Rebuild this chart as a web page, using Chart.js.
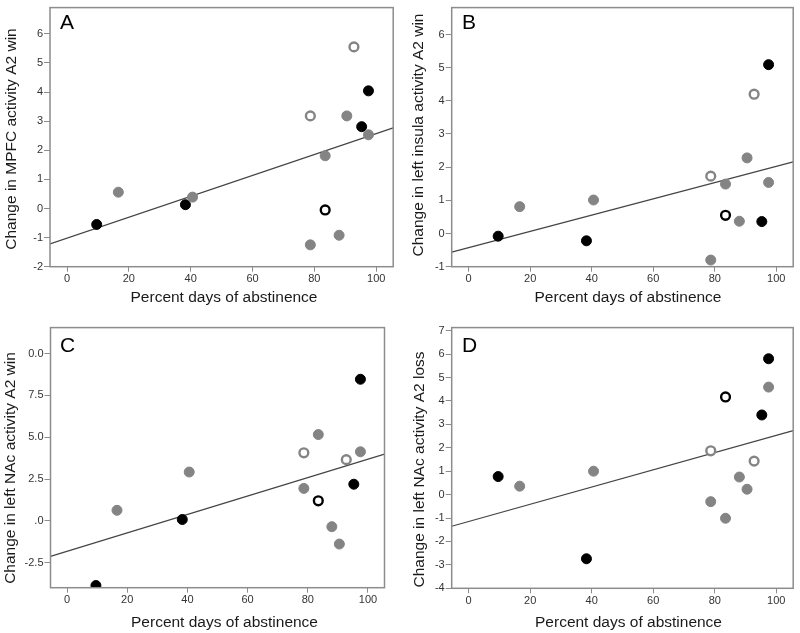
<!DOCTYPE html>
<html>
<head>
<meta charset="utf-8">
<script src="https://cdn.jsdelivr.net/npm/chart.js@4.4.1/dist/chart.umd.min.js"></script>
<style>
  html, body { margin: 0; padding: 0; background: #fff; }
  #wrap { position: relative; width: 800px; height: 633px; overflow: hidden; }
  canvas { position: absolute; }
</style>
</head>
<body>
<div id="wrap">
  <canvas id="chartA" width="400" height="320" style="left:0;top:0"></canvas>
  <canvas id="chartB" width="400" height="320" style="left:400px;top:0"></canvas>
  <canvas id="chartC" width="400" height="313" style="left:0;top:320px"></canvas>
  <canvas id="chartD" width="400" height="313" style="left:400px;top:320px"></canvas>
</div>
<script>
// Percent days of abstinence, same subjects in every panel
const xBlack     = [9.6, 38.3, 95.3, 97.5];
const xGray      = [16.6, 40.6, 78.7, 83.5, 88.0, 90.5, 97.5];
const xOpenGray  = [78.7, 92.8];
const xOpenBlack = [83.5];
const xFit       = [-5.5, 105.5];
const xTicks     = [0, 20, 40, 60, 80, 100];

// A - MPFC
const yBlackA     = [-0.55, 0.13, 2.81, 4.04];
const yGrayA      = [0.56, 0.39, -1.25, 1.81, -0.92, 3.18, 2.53];
const yOpenGrayA  = [3.18, 5.55];
const yOpenBlackA = [-0.05];
const yFitA       = [-1.22, 2.77];
const yTicksA     = [-2, -1, 0, 1, 2, 3, 4, 5, 6];

// B - left insula
const yBlackB     = [-0.08, -0.22, 0.36, 5.09];
const yGrayB      = [0.81, 1.01, -0.80, 1.49, 0.37, 2.28, 1.54];
const yOpenGrayB  = [1.73, 4.20];
const yOpenBlackB = [0.55];
const yFitB       = [-0.56, 2.16];
const yTicksB     = [-1, 0, 1, 2, 3, 4, 5, 6];

// C - left NAc win (labels as printed, top one is cut)
const yBlackC     = [-3.87, 0.08, 2.19, 8.47];
const yGrayC      = [0.63, 2.92, 1.94, 5.16, -0.35, -1.39, 4.13];
const yOpenGrayC  = [4.07, 3.66];
const yOpenBlackC = [1.20];
const yFitC       = [-2.13, 3.99];
const yTicksC     = [-2.5, 0, 2.5, 5, 7.5, 10];
const yLabelsC    = ['-2.5', '.0', '2.5', '5.0', '7.5', '0.0'];

// D - left NAc loss
const yBlackD     = [0.77, -2.74, 3.40, 5.80];
const yGrayD      = [0.36, 1.00, -0.30, -1.01, 0.75, 0.23, 4.59];
const yOpenGrayD  = [1.87, 1.43];
const yOpenBlackD = [4.17];
const yFitD       = [-1.35, 2.73];
const yTicksD     = [-4, -3, -2, -1, 0, 1, 2, 3, 4, 5, 6, 7];

const FONT = '"Liberation Sans", Arial, sans-serif';
const GRAY = '#848484';
const AXIS = '#8c8c8c';

const pts = (xs, ys) => xs.map((x, i) => ({ x, y: ys[i] }));

// frame, panel letter and axis titles
const panelDecor = {
  id: 'panelDecor',
  afterDatasetsDraw(chart, args, o) {
    const { ctx, chartArea: a } = chart;
    ctx.save();
    ctx.strokeStyle = AXIS;
    ctx.lineWidth = 1.5;
    ctx.strokeRect(a.left, a.top, a.right - a.left, a.bottom - a.top);

    ctx.fillStyle = '#000';
    ctx.font = '21px ' + FONT;
    ctx.textAlign = 'left';
    ctx.textBaseline = 'alphabetic';
    ctx.fillText(o.letter, o.letterX, o.letterY);

    ctx.fillStyle = '#1a1a1a';
    ctx.font = '15.5px ' + FONT;
    ctx.textAlign = 'center';
    ctx.textBaseline = 'middle';
    ctx.fillText(o.xTitle, o.xTitleX, o.xTitleY);
    ctx.translate(o.yTitleX, o.yTitleY);
    ctx.rotate(-Math.PI / 2);
    ctx.fillText(o.yTitle, 0, 0);
    ctx.restore();
  }
};

function makePanel(id, p) {
  const ring = (data, color) => ({
    data, pointRadius: 4.4, pointHoverRadius: 4.4, borderWidth: 2.4,
    borderColor: color, backgroundColor: '#fff', clip: 0, order: 0
  });
  const dot = (data, color) => ({
    data, pointRadius: 5, pointHoverRadius: 5, borderWidth: 1,
    borderColor: color, backgroundColor: color, clip: 0, order: 0
  });

  return new Chart(document.getElementById(id), {
    type: 'scatter',
    data: {
      datasets: [
        { data: pts(xFit, p.fit), showLine: true, borderColor: '#454545', borderWidth: 1.2,
          pointRadius: 0, pointHoverRadius: 0, fill: false, clip: 0, order: 5 },
        dot(pts(xGray, p.gray), GRAY),
        dot(pts(xBlack, p.black), '#000'),
        ring(pts(xOpenGray, p.openGray), GRAY),
        ring(pts(xOpenBlack, p.openBlack), '#000')
      ]
    },
    options: {
      responsive: false,
      animation: false,
      events: [],
      layout: { padding: { left: 0, top: p.padTop, right: p.padRight, bottom: 0 } },
      plugins: {
        legend: { display: false },
        tooltip: { enabled: false },
        panelDecor: p.decor
      },
      scales: {
        x: {
          type: 'linear', min: xFit[0], max: xFit[1],
          afterBuildTicks: s => { s.ticks = xTicks.map(v => ({ value: v })); },
          afterFit: s => { s.height = p.xHeight; },
          grid: { drawOnChartArea: false, drawTicks: true, tickLength: 5, color: AXIS, lineWidth: 1 },
          border: { display: false },
          ticks: { color: '#333', padding: 1, maxRotation: 0, autoSkip: false,
                   font: { size: 11, family: FONT } }
        },
        y: {
          type: 'linear', min: p.yMin, max: p.yMax,
          afterBuildTicks: s => { s.ticks = p.yTicks.map(v => ({ value: v })); },
          afterFit: s => { s.width = p.yWidth; },
          grid: { drawOnChartArea: false, drawTicks: true, tickLength: 6, color: AXIS, lineWidth: 1 },
          border: { display: false },
          ticks: { color: '#333', padding: 1, autoSkip: false,
                   font: { size: 11, family: FONT },
                   callback: (v, i) => p.yLabels ? p.yLabels[i] : String(v) }
        }
      }
    },
    plugins: [panelDecor]
  });
}

const XTITLE = 'Percent days of abstinence';

makePanel('chartA', {
  black: yBlackA, gray: yGrayA, openGray: yOpenGrayA, openBlack: yOpenBlackA, fit: yFitA,
  yTicks: yTicksA, yMin: -2, yMax: 6.9,
  padTop: 0.5, padRight: 5, yWidth: 50, xHeight: 53.3,
  decor: { letter: 'A', letterX: 60, letterY: 28.5,
           xTitle: XTITLE, xTitleX: 224, xTitleY: 298,
           yTitle: 'Change in MPFC activity A2 win', yTitleX: 12, yTitleY: 139 }
});

makePanel('chartB', {
  black: yBlackB, gray: yGrayB, openGray: yOpenGrayB, openBlack: yOpenBlackB, fit: yFitB,
  yTicks: yTicksB, yMin: -1, yMax: 6.81,
  padTop: 0.5, padRight: 4.3, yWidth: 51.7, xHeight: 53.3,
  decor: { letter: 'B', letterX: 62, letterY: 28.5,
           xTitle: XTITLE, xTitleX: 228, xTitleY: 298,
           yTitle: 'Change in left insula activity A2 win', yTitleX: 19, yTitleY: 135 }
});

makePanel('chartC', {
  black: yBlackC, gray: yGrayC, openGray: yOpenGrayC, openBlack: yOpenBlackC, fit: yFitC,
  yTicks: yTicksC, yLabels: yLabelsC, yMin: -4.0, yMax: 11.56,
  padTop: 2.7, padRight: 15.5, yWidth: 50.5, xHeight: 45.3,
  decor: { letter: 'C', letterX: 60, letterY: 31.7,
           xTitle: XTITLE, xTitleX: 224.5, xTitleY: 303,
           yTitle: 'Change in left NAc activity A2 win', yTitleX: 11, yTitleY: 148 }
});

makePanel('chartD', {
  black: yBlackD, gray: yGrayD, openGray: yOpenGrayD, openBlack: yOpenBlackD, fit: yFitD,
  yTicks: yTicksD, yMin: -4, yMax: 7.13,
  padTop: 2.7, padRight: 4.3, yWidth: 51.7, xHeight: 44.7,
  decor: { letter: 'D', letterX: 62, letterY: 31.7,
           xTitle: XTITLE, xTitleX: 228.5, xTitleY: 303,
           yTitle: 'Change in left NAc activity A2 loss', yTitleX: 20, yTitleY: 149.5 }
});
</script>
</body>
</html>
